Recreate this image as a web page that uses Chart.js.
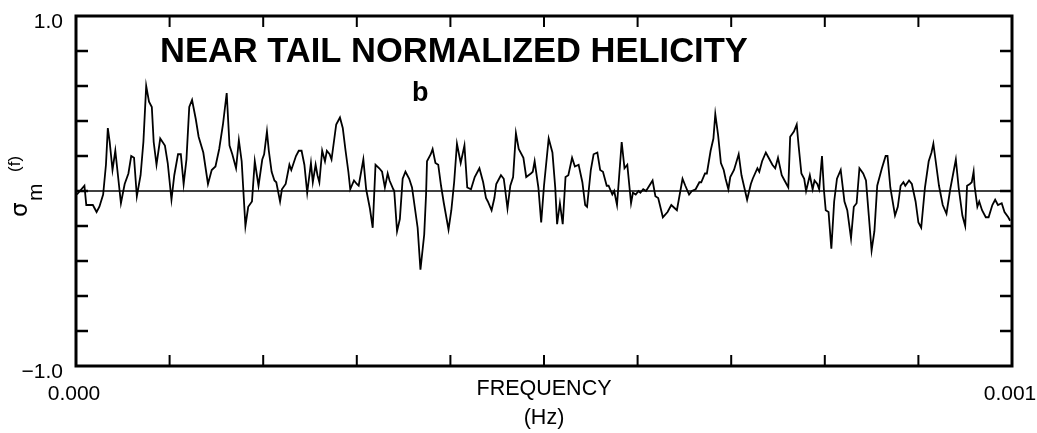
<!DOCTYPE html>
<html>
<head>
<meta charset="utf-8">
<script src="https://cdn.jsdelivr.net/npm/chart.js@4.4.1/dist/chart.umd.min.js"></script>
<style>
  html, body { margin: 0; padding: 0; background: #fff; }
  canvas { display: block; }
</style>
</head>
<body>
<canvas id="c" width="1037" height="433"></canvas>
<script>
// ---- data (frequency in micro-hertz, 0..1000 = 0.000..0.001 Hz) ----
const freqMicroHz = [
  1, 9, 11, 16, 18, 22, 25, 29, 32, 34, 36, 39, 42, 44, 48, 52, 56, 59, 62, 65,
  69, 72, 75, 78, 81, 83, 86, 90, 95, 98, 102, 105, 109, 112, 115, 118, 121, 124, 128, 131,
  136, 141, 145, 149, 153, 157, 161, 164, 167, 171, 174, 177, 181, 184, 188, 191, 195, 199, 201, 204,
  206, 209, 212, 214, 218, 220, 224, 228, 230, 235, 238, 241, 244, 247, 251, 253, 256, 258, 260, 263,
  266, 268, 271, 273, 276, 278, 282, 285, 288, 291, 293, 297, 300, 302, 307, 310, 314, 317, 320, 324,
  327, 330, 333, 335, 339, 340, 343, 346, 349, 352, 356, 359, 365, 368, 372, 374, 375, 379, 381, 384,
  387, 390, 393, 398, 401, 404, 407, 411, 415, 418, 422, 426, 431, 435, 438, 440, 444, 447, 449, 454,
  457, 458, 461, 464, 467, 470, 473, 478, 481, 486, 488, 490, 494, 497, 500, 505, 509, 512, 514, 517,
  520, 523, 526, 530, 533, 537, 541, 544, 546, 550, 553, 557, 560, 563, 567, 569, 573, 575, 578, 583,
  586, 589, 593, 595, 598, 601, 603, 606, 609, 616, 619, 622, 627, 632, 636, 640, 642, 648, 651, 655,
  658, 662, 666, 668, 672, 674, 678, 681, 683, 686, 689, 692, 694, 697, 699, 703, 708, 711, 714, 717,
  721, 723, 728, 730, 733, 737, 740, 744, 747, 750, 754, 757, 761, 763, 767, 770, 772, 775, 778, 780,
  784, 787, 789, 792, 794, 797, 799, 801, 804, 807, 810, 813, 817, 821, 824, 828, 831, 834, 837, 841,
  844, 847, 850, 853, 856, 861, 865, 867, 870, 875, 878, 881, 884, 886, 890, 893, 897, 900, 903, 907,
  911, 914, 916, 918, 922, 926, 930, 934, 940, 943, 947, 950, 952, 955, 957, 959, 960, 963, 965, 968,
  972, 975, 979, 982, 985, 989, 992, 996, 998
];
const helicity = [
  -0.02, 0.03, -0.08, -0.08, -0.08, -0.12, -0.09, -0.02, 0.15, 0.36, 0.28, 0.12, 0.23, 0.13, -0.07, 0.04, 0.10, 0.20, 0.19, -0.03,
  0.09, 0.28, 0.60, 0.51, 0.48, 0.28, 0.15, 0.30, 0.26, 0.16, -0.05, 0.09, 0.21, 0.21, 0.04, 0.18, 0.48, 0.52, 0.41, 0.31,
  0.22, 0.04, 0.12, 0.14, 0.24, 0.38, 0.56, 0.26, 0.21, 0.13, 0.29, 0.17, -0.20, -0.09, -0.06, 0.17, 0.03, 0.18, 0.21, 0.34,
  0.23, 0.11, 0.06, 0.05, -0.06, 0.01, 0.04, 0.15, 0.12, 0.20, 0.23, 0.23, 0.15, -0.01, 0.16, 0.05, 0.15, 0.09, 0.05, 0.23,
  0.17, 0.23, 0.21, 0.18, 0.30, 0.38, 0.42, 0.36, 0.23, 0.11, 0.01, 0.06, 0.04, 0.03, 0.18, 0.01, -0.10, -0.21, 0.15, 0.13,
  0.11, 0.02, 0.10, 0.06, 0.01, 0.00, -0.23, -0.16, 0.07, 0.11, 0.07, 0.02, -0.21, -0.45, -0.25, -0.02, 0.17, 0.21, 0.24, 0.16,
  0.15, 0.03, -0.07, -0.22, -0.11, 0.05, 0.27, 0.16, 0.26, 0.02, 0.01, 0.08, 0.13, 0.05, -0.04, -0.06, -0.11, -0.04, 0.04, 0.09,
  0.07, 0.03, -0.10, 0.03, 0.08, 0.33, 0.24, 0.19, 0.08, 0.10, 0.11, 0.17, 0.02, -0.18, 0.03, 0.30, 0.22, 0.02, -0.19, -0.07,
  -0.19, 0.08, 0.09, 0.19, 0.14, 0.15, 0.05, -0.08, -0.09, 0.12, 0.21, 0.22, 0.12, 0.11, 0.03, 0.03, -0.02, 0.00, -0.08, 0.28,
  0.13, 0.15, -0.07, -0.01, -0.02, 0.00, -0.01, 0.01, 0.00, 0.06, -0.03, -0.04, -0.15, -0.12, -0.08, -0.10, -0.11, 0.07, 0.03, -0.02,
  0.00, 0.01, 0.05, 0.05, 0.10, 0.10, 0.23, 0.30, 0.44, 0.32, 0.16, 0.12, 0.07, 0.01, 0.08, 0.12, 0.21, 0.09, 0.02, -0.05,
  0.04, 0.07, 0.13, 0.11, 0.17, 0.22, 0.19, 0.15, 0.13, 0.19, 0.09, 0.06, 0.02, 0.31, 0.34, 0.38, 0.26, 0.10, 0.07, 0.00,
  0.09, 0.01, 0.06, 0.04, 0.01, 0.20, 0.01, -0.11, -0.12, -0.33, -0.06, 0.07, 0.12, -0.06, -0.11, -0.27, -0.09, -0.07, 0.13, 0.10,
  0.06, -0.14, -0.34, -0.23, 0.03, 0.13, 0.20, 0.20, 0.02, -0.14, -0.09, 0.03, 0.05, 0.03, 0.06, 0.04, -0.06, -0.18, -0.21, 0.02,
  0.17, 0.22, 0.27, 0.19, 0.03, -0.08, -0.13, 0.01, 0.18, 0.02, -0.14, -0.20, 0.03, 0.04, 0.05, 0.11, 0.03, -0.09, -0.06, -0.11,
  -0.15, -0.15, -0.08, -0.05, -0.08, -0.07, -0.12, -0.15, -0.17
];
const zeroLineFreq = [0, 1000];
const zeroLineValue = [0, 0];
const yLabelTicks = { '1': '1.0', '-1': '\u22121.0' };
const xLabelTicks = { '0': '0.000', '1000': '0.001' };
const chartTitle = 'NEAR TAIL NORMALIZED HELICITY';
const panelLetter = 'b';
const xTitle = ['FREQUENCY', '(Hz)'];

// ---- build datasets ----
const seriesPoints = freqMicroHz.map((f, i) => ({ x: f, y: helicity[i] }));
const zeroPoints = zeroLineFreq.map((f, i) => ({ x: f, y: zeroLineValue[i] }));

const FONT = '"Liberation Sans", Arial, Helvetica, sans-serif';

const framePlugin = {
  id: 'frame',
  afterDatasetsDraw(chart) {
    const { ctx, chartArea: a, scales } = chart;
    const xs = scales.x, ys = scales.y;
    ctx.save();
    ctx.strokeStyle = '#000';
    ctx.lineWidth = 3;
    ctx.lineJoin = 'miter';
    ctx.strokeRect(a.left, a.top, a.right - a.left, a.bottom - a.top);
    // inward ticks
    ctx.lineWidth = 2.5;
    ctx.beginPath();
    ys.ticks.forEach(t => {
      if (Math.abs(t.value) > 0.999) return;
      const y = ys.getPixelForValue(t.value);
      ctx.moveTo(a.left, y); ctx.lineTo(a.left + 12, y);
      ctx.moveTo(a.right, y); ctx.lineTo(a.right - 12, y);
    });
    ctx.stroke();
    ctx.lineWidth = 2;
    ctx.beginPath();
    xs.ticks.forEach(t => {
      if (t.value <= 0 || t.value >= 1000) return;
      const x = xs.getPixelForValue(t.value);
      ctx.moveTo(x, a.bottom); ctx.lineTo(x, a.bottom - 11);
      ctx.moveTo(x, a.top); ctx.lineTo(x, a.top + 11);
    });
    ctx.stroke();
    ctx.restore();
  },
  afterDraw(chart) {
    const { ctx } = chart;
    ctx.save();
    ctx.fillStyle = '#000';
    ctx.textAlign = 'left';
    ctx.textBaseline = 'alphabetic';
    ctx.font = 'bold 34.5px ' + FONT;
    ctx.fillText(chartTitle, 160, 62);
    ctx.font = 'bold 27px ' + FONT;
    ctx.fillText(panelLetter, 412, 101);
    // rotated y-axis title: sigma_m (f)
    ctx.rotate(-Math.PI / 2);
    ctx.font = '23px "DejaVu Sans", ' + FONT;
    ctx.fillText('\u03C3', -217, 27);
    ctx.font = '21px ' + FONT;
    ctx.fillText('m', -201, 42);
    ctx.font = '17px ' + FONT;
    ctx.fillText('(f)', -172, 20);
    ctx.restore();
  }
};

new Chart(document.getElementById('c'), {
  type: 'line',
  data: {
    datasets: [
      {
        data: seriesPoints,
        borderColor: '#000',
        borderWidth: 1.8,
        pointRadius: 0,
        tension: 0,
        fill: false
      },
      {
        data: zeroPoints,
        borderColor: '#000',
        borderWidth: 1.3,
        pointRadius: 0,
        fill: false
      }
    ]
  },
  options: {
    responsive: false,
    animation: false,
    events: [],
    layout: { padding: { left: 0, right: 25, top: 16, bottom: 0 } },
    plugins: { legend: { display: false }, tooltip: { enabled: false }, title: { display: false } },
    scales: {
      x: {
        type: 'linear',
        min: 0,
        max: 1000,
        grid: { display: false, drawTicks: false, tickLength: 0 },
        border: { display: false },
        ticks: {
          stepSize: 100,
          autoSkip: false,
          maxRotation: 0,
          padding: 16,
          color: '#000',
          font: { family: FONT, size: 21 },
          labelOffset: (c) => (c.index === 10 ? -6 : -2),
          callback: (v) => xLabelTicks[String(Math.round(v))] || ''
        },
        title: {
          display: true,
          text: xTitle,
          color: '#000',
          font: { family: FONT, size: 21.5, lineHeight: 1.35 },
          padding: { top: 0, bottom: 0 }
        },
        afterFit: (s) => { s.height = 67; s.paddingLeft = 0; s.paddingRight = 0; }
      },
      y: {
        type: 'linear',
        min: -1,
        max: 1,
        grid: { display: false, drawTicks: false, tickLength: 0 },
        border: { display: false },
        ticks: {
          stepSize: 0.2,
          autoSkip: false,
          padding: 13,
          color: '#000',
          font: { family: FONT, size: 21 },
          labelOffset: 6,
          callback: (v) => yLabelTicks[String(Math.round(v * 10) / 10)] || ''
        },
        afterFit: (s) => { s.width = 76; s.paddingTop = 0; s.paddingBottom = 0; }
      }
    }
  },
  plugins: [framePlugin]
});
</script>
</body>
</html>
